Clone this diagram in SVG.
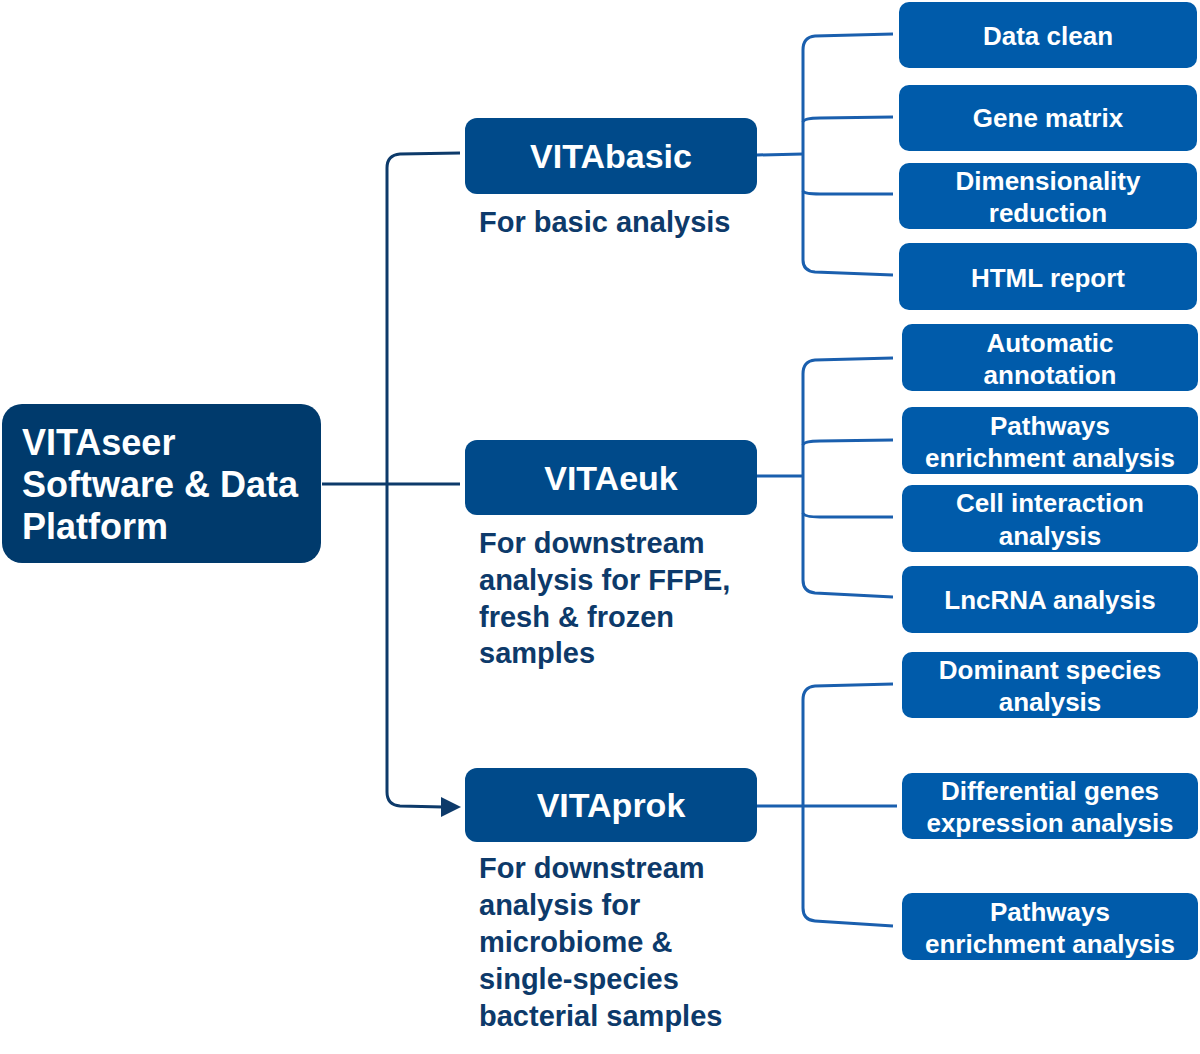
<svg xmlns="http://www.w3.org/2000/svg" width="1200" height="1054" viewBox="0 0 1200 1054">
<style>
.root{fill:#003a6c}
.main{fill:#004a8a}
.sub{fill:#005baa}
.wt{fill:#ffffff;font-family:"Liberation Sans",Arial,sans-serif;font-weight:bold;text-anchor:middle}
.mt{font-size:34px}
.st{font-size:26px}
.rt{fill:#ffffff;font-family:"Liberation Sans",Arial,sans-serif;font-weight:bold;font-size:36px}
.dt{fill:#0d3a6a;font-family:"Liberation Sans",Arial,sans-serif;font-weight:bold;font-size:29px}
.lc{fill:none;stroke:#0d3a6a;stroke-width:3}
.rc{fill:none;stroke:#1a5fae;stroke-width:3}
</style>
<g id="connectors">
<path class="lc" d="M322,484 L460,484"/>
<path class="lc" d="M460,153 L400,154 Q387,155 387,168 L387,792 Q387,805 400,806 L443,807"/>
<polygon points="441,797 461,807 441,817" fill="#0d3a6a"/>
<path class="rc" d="M757,155 L803,154"/>
<path class="rc" d="M893,34 L815,36 Q803,37 803,50 L803,260 Q803,271 815,272 L893,275"/>
<path class="rc" d="M803,122 Q804,118 820,118 L893,117"/>
<path class="rc" d="M803,191 Q804,194 820,194 L893,194"/>
<path class="rc" d="M757,476 L803,476"/>
<path class="rc" d="M893,358 L815,360 Q803,361 803,374 L803,580 Q803,592 815,593 L893,597"/>
<path class="rc" d="M803,445 Q804,441 820,441 L893,440"/>
<path class="rc" d="M803,513 Q804,517 820,517 L893,517"/>
<path class="rc" d="M757,806 L897,806"/>
<path class="rc" d="M893,684 L815,686 Q803,687 803,700 L803,908 Q803,920 815,921 L893,926"/>
</g>
<g id="root">
<rect class="root" x="2" y="404" width="319" height="159" rx="20"/>
<text class="rt" x="22" y="455">VITAseer</text>
<text class="rt" x="22" y="497">Software &amp; Data</text>
<text class="rt" x="22" y="539">Platform</text>
</g>
<g id="vitabasic">
<rect class="main" x="465" y="118" width="292" height="76" rx="12"/>
<text class="wt mt" x="611" y="168">VITAbasic</text>
<text class="dt" x="479" y="232">For basic analysis</text>
</g>
<g id="vitaeuk">
<rect class="main" x="465" y="440" width="292" height="75" rx="12"/>
<text class="wt mt" x="611" y="490">VITAeuk</text>
<text class="dt" x="479" y="553">For downstream</text>
<text class="dt" x="479" y="590">analysis for FFPE,</text>
<text class="dt" x="479" y="627">fresh &amp; frozen</text>
<text class="dt" x="479" y="663">samples</text>
</g>
<g id="vitaprok">
<rect class="main" x="465" y="768" width="292" height="74" rx="12"/>
<text class="wt mt" x="611" y="817">VITAprok</text>
<text class="dt" x="479" y="878">For downstream</text>
<text class="dt" x="479" y="915">analysis for</text>
<text class="dt" x="479" y="952">microbiome &amp;</text>
<text class="dt" x="479" y="989">single-species</text>
<text class="dt" x="479" y="1026">bacterial samples</text>
</g>
<g id="data-clean">
<rect class="sub" x="899" y="2" width="298" height="66" rx="10"/>
<text class="wt st" x="1048" y="45">Data clean</text>
</g>
<g id="gene-matrix">
<rect class="sub" x="899" y="85" width="298" height="66" rx="10"/>
<text class="wt st" x="1048" y="127">Gene matrix</text>
</g>
<g id="dimensionality">
<rect class="sub" x="899" y="163" width="298" height="66" rx="10"/>
<text class="wt st" x="1048" y="190">Dimensionality</text>
<text class="wt st" x="1048" y="222">reduction</text>
</g>
<g id="html-report">
<rect class="sub" x="899" y="243" width="298" height="67" rx="10"/>
<text class="wt st" x="1048" y="287">HTML report</text>
</g>
<g id="automatic-annotation">
<rect class="sub" x="902" y="324" width="296" height="67" rx="10"/>
<text class="wt st" x="1050" y="352">Automatic</text>
<text class="wt st" x="1050" y="384">annotation</text>
</g>
<g id="pathways-euk">
<rect class="sub" x="902" y="407" width="296" height="67" rx="10"/>
<text class="wt st" x="1050" y="435">Pathways</text>
<text class="wt st" x="1050" y="467">enrichment analysis</text>
</g>
<g id="cell-interaction">
<rect class="sub" x="902" y="485" width="296" height="67" rx="10"/>
<text class="wt st" x="1050" y="512">Cell interaction</text>
<text class="wt st" x="1050" y="545">analysis</text>
</g>
<g id="lncrna">
<rect class="sub" x="902" y="566" width="296" height="67" rx="10"/>
<text class="wt st" x="1050" y="609">LncRNA analysis</text>
</g>
<g id="dominant-species">
<rect class="sub" x="902" y="652" width="296" height="66" rx="10"/>
<text class="wt st" x="1050" y="679">Dominant species</text>
<text class="wt st" x="1050" y="711">analysis</text>
</g>
<g id="differential-genes">
<rect class="sub" x="902" y="773" width="296" height="66" rx="10"/>
<text class="wt st" x="1050" y="800">Differential genes</text>
<text class="wt st" x="1050" y="832">expression analysis</text>
</g>
<g id="pathways-prok">
<rect class="sub" x="902" y="893" width="296" height="67" rx="10"/>
<text class="wt st" x="1050" y="921">Pathways</text>
<text class="wt st" x="1050" y="953">enrichment analysis</text>
</g>
</svg>
